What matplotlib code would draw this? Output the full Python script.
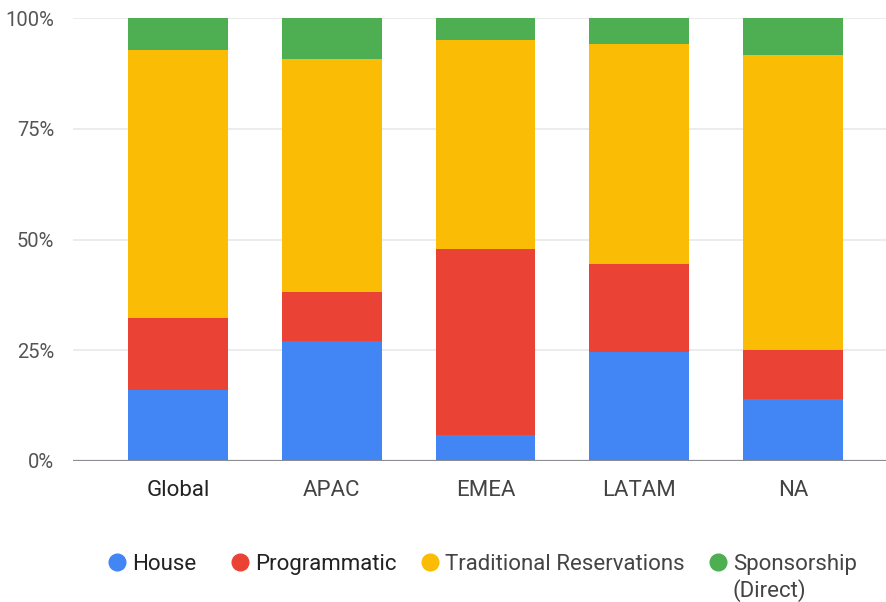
import numpy as np
import matplotlib
matplotlib.use("Agg")
import matplotlib.pyplot as plt
from matplotlib.lines import Line2D

plt.rcParams['font.family'] = ['Roboto', 'DejaVu Sans']

# data (percent share)
regions = ['Global', 'APAC', 'EMEA', 'LATAM', 'NA']
house = [16.0, 27.1, 5.9, 24.7, 14.0]
programmatic = [16.3, 11.0, 42.0, 19.8, 11.1]
traditional = [60.5, 52.6, 47.1, 49.7, 66.5]
sponsorship = [7.2, 9.3, 5.0, 5.8, 8.4]

series_names = ['House', 'Programmatic', 'Traditional Reservations', 'Sponsorship\n(Direct)']
series = [house, programmatic, traditional, sponsorship]
colors = ['#4285F4', '#EA4335', '#FABC04', '#4DAF51']
y_ticks = [0, 25, 50, 75, 100]
y_labels = ['0%', '25%', '50%', '75%', '100%']

W, H = 886, 602
fig = plt.figure(figsize=(W / 100, H / 100), dpi=100)
ax = fig.add_axes([73 / W, 1 - 461 / H, (W - 73) / W, (461 - 18) / H])

x = np.arange(len(regions))
bottom = np.zeros(len(regions))
for vals, c in zip(series, colors):
    ax.bar(x, vals, bottom=bottom, width=0.65, color=c, zorder=2, linewidth=0)
    bottom += np.array(vals)

ax.set_xlim(-0.683, 4.605)
ax.set_ylim(0, 100)
ax.set_yticks(y_ticks)
ax.set_yticklabels(y_labels, fontsize=14.5, color='#555555')
ax.set_xticks(x)
ax.set_xticklabels(regions, fontsize=16, color='#444444')
ax.get_xticklabels()[0].set_color('#222222')
ax.tick_params(axis='y', length=0, pad=13.5)
ax.tick_params(axis='x', length=0, pad=14)

for t in y_ticks[1:]:
    ax.axhline(t, color='#ebebeb', lw=1.3, zorder=1)
ax.axhline(0, color='#8a8d91', lw=1.6, zorder=3)

for s in ax.spines.values():
    s.set_visible(False)

# legend, drawn by hand to match the wrapped last entry
leg_x = [117, 240, 430, 718]
leg_y = 562
line_gap = 25.5
text_colors = ['#222222', '#222222', '#444444', '#444444']
for lx, name, c, tc in zip(leg_x, series_names, colors, text_colors):
    fig.add_artist(Line2D([lx / W], [1 - leg_y / H], marker='o', markersize=12,
                          color=c, linestyle='none', transform=fig.transFigure))
    for i, line in enumerate(name.split('\n')):
        fig.text((lx + 15) / W, 1 - (leg_y + i * line_gap) / H, line, fontsize=16,
                 color=tc, ha='left', va='center_baseline')

fig.savefig('out.png', dpi=100)
